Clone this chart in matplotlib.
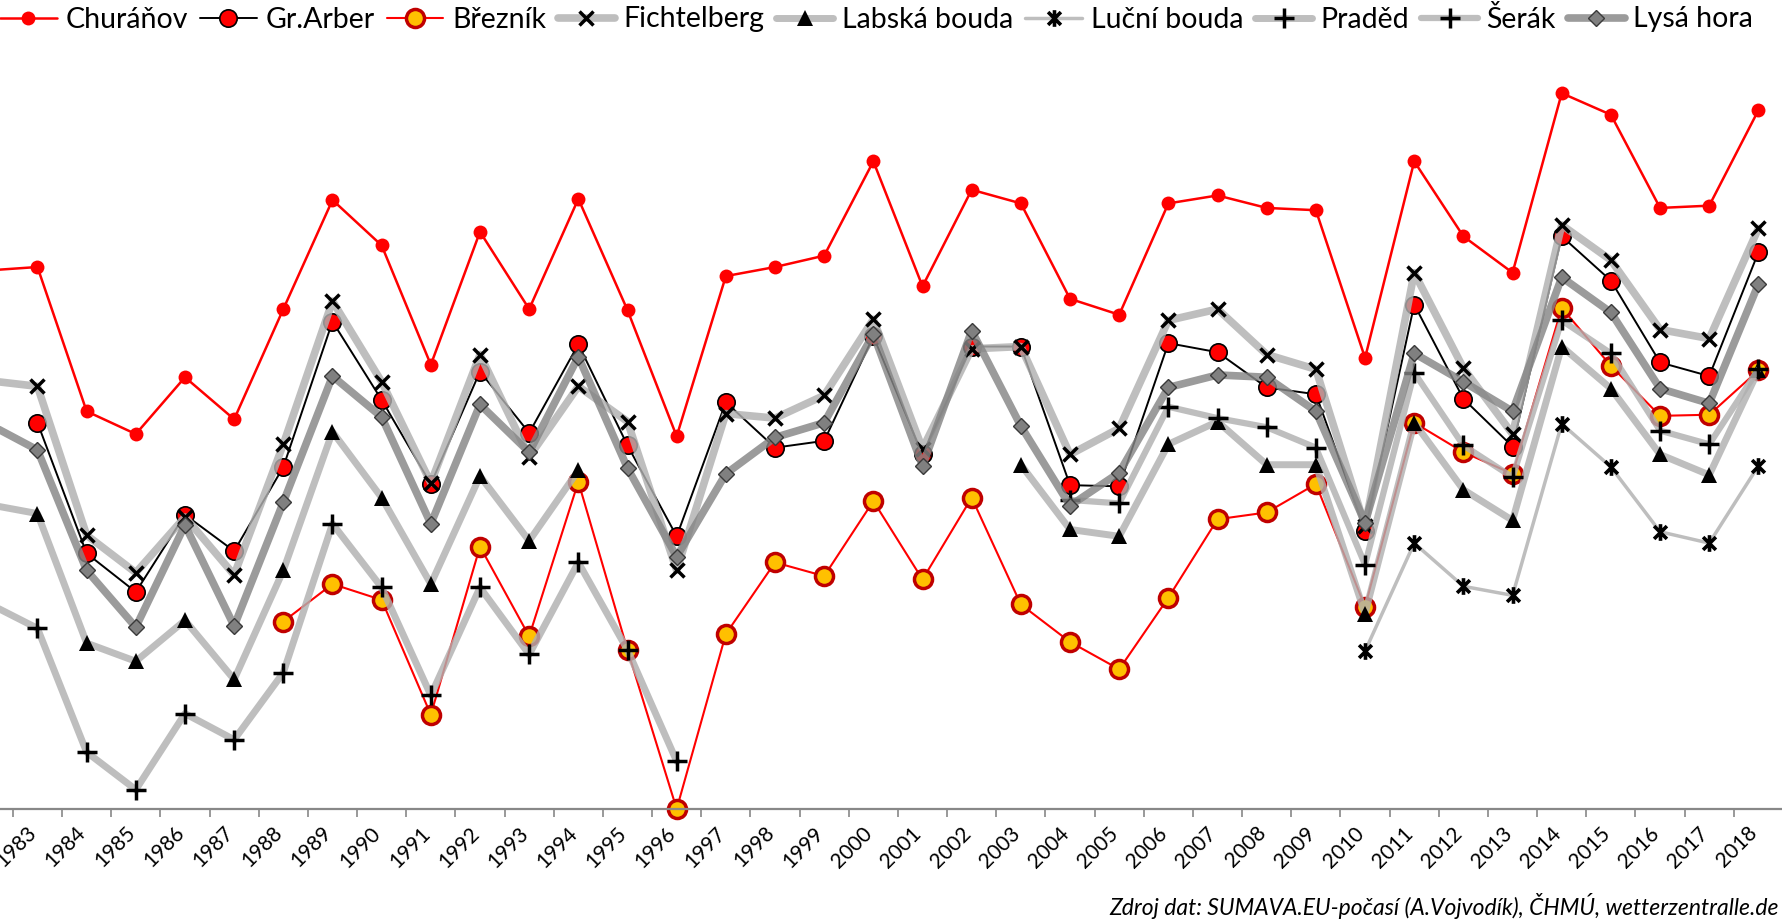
import numpy as np
import matplotlib
matplotlib.use("Agg")
import matplotlib.pyplot as plt
from matplotlib.path import Path
from matplotlib.transforms import blended_transform_factory, ScaledTranslation

plt.rcParams['font.family'] = ['Lato', 'DejaVu Sans']

nan = np.nan
years = list(range(1982, 2019))
year_labels = [str(y) for y in range(1983, 2019)]

churanov = [4.74, 4.77, 3.50, 3.30, 3.80, 3.43, 4.40, 5.36, 4.96, 3.91, 5.08, 4.40, 5.37, 4.39, 3.28,
            4.69, 4.77, 4.87, 5.70, 4.60, 5.45, 5.33, 4.49, 4.35, 5.33, 5.40, 5.29, 5.27, 3.97,
            5.70, 5.04, 4.72, 6.30, 6.11, 5.29, 5.31, 6.15]
arber = [nan, 3.40, 2.25, 1.91, 2.59, 2.27, 3.01, 4.29, 3.60, 2.86, 3.85, 3.31, 4.09, 3.20, 2.40,
         3.58, 3.18, 3.24, 4.16, 3.12, 4.07, 4.07, 2.85, 2.84, 4.10, 4.02, 3.71, 3.65, 2.45,
         4.44, 3.61, 3.19, 5.04, 4.65, 3.93, 3.81, 4.90]
breznik = [nan, nan, nan, nan, nan, nan, 1.65, 1.98, 1.84, 0.83, 2.31, 1.52, 2.88, 1.40, 0.00,
           1.54, 2.17, 2.05, 2.71, 2.02, 2.74, 1.80, 1.47, 1.23, 1.86, 2.55, 2.61, 2.86, 1.78,
           3.40, 3.14, 2.95, 4.41, 3.90, 3.46, 3.47, 3.86]
fichtelberg = [3.77, 3.72, 2.41, 2.08, 2.57, 2.06, 3.21, 4.47, 3.76, 2.87, 4.00, 3.10, 3.72, 3.41, 2.10,
               3.48, 3.44, 3.64, 4.31, 3.17, 4.05, 4.07, 3.12, 3.35, 4.30, 4.40, 4.00, 3.87, 2.49,
               4.72, 3.88, 3.30, 5.14, 4.83, 4.22, 4.14, 5.11]
labska = [2.68, 2.60, 1.46, 1.30, 1.66, 1.14, 2.10, 3.32, 2.74, 1.98, 2.93, 2.36, 2.98, nan, nan,
          nan, nan, nan, nan, nan, nan, 3.03, 2.46, 2.40, 3.21, 3.41, 3.03, 3.03, 1.72,
          3.40, 2.81, 2.54, 4.07, 3.70, 3.12, 2.94, 3.86]
lucni = [nan] * 28 + [1.39, 2.34, 1.96, 1.88, 3.39, 3.01, 2.44, 2.34, 3.02]
praded = [1.81, 1.59, 0.50, 0.17, 0.84, 0.61, 1.20, 2.51, 1.95, 1.00, 1.95, 1.36, 2.17, 1.40, 0.42] + [nan] * 22
serak = [nan] * 22 + [2.72, 2.69, 3.54, 3.44, 3.36, 3.18, 2.15, 3.84, 3.20, 2.92, 4.30, 4.01, 3.33, 3.21, 3.87]
lysa = [3.39, 3.16, 2.10, 1.60, 2.50, 1.61, 2.70, 3.81, 3.45, 2.51, 3.56, 3.14, 3.98, 3.00, 2.22,
        2.95, 3.27, 3.40, 4.18, 3.02, 4.21, 3.37, 2.67, 2.96, 3.71, 3.82, 3.80, 3.50, 2.52,
        4.01, 3.76, 3.50, 4.68, 4.37, 3.70, 3.57, 4.62]

names = ["Churáňov", "Gr.Arber", "Březník", "Fichtelberg", "Labská bouda",
         "Luční bouda", "Praděd", "Šerák", "Lysá hora"]
source = "Zdroj dat: SUMAVA.EU-počasí (A.Vojvodík), ČHMÚ, wetterzentralle.de"

star = Path([(-1, -1), (1, 1), (-1, 1), (1, -1), (0, -1.3), (0, 1.3)],
            [Path.MOVETO, Path.LINETO, Path.MOVETO, Path.LINETO, Path.MOVETO, Path.LINETO])

lg = (0.69, 0.69, 0.69, 0.82)
dg = (0.52, 0.52, 0.52, 0.82)
styles = [
    dict(color='#FF0000', lw=1.8, marker='o', ms=10, mfc='#FF0000', mec='#FF0000', mew=0),
    dict(color='black', lw=1.4, marker='o', ms=12.5, mfc='#FF0000', mec='black', mew=1.2),
    dict(color='#FF0000', lw=1.5, marker='o', ms=13, mfc='#FFC000', mec='#C00000', mew=2.5),
    dict(color=lg, lw=5.5, marker='x', ms=10, mfc='black', mec='black', mew=2.5),
    dict(color=lg, lw=5.0, marker='^', ms=11, mfc='black', mec='black', mew=0),
    dict(color=lg, lw=2.5, marker=star, ms=12, mfc='none', mec='black', mew=2.6),
    dict(color=lg, lw=5.0, marker='+', ms=14, mfc='black', mec='black', mew=2.5),
    dict(color=lg, lw=4.5, marker='+', ms=14, mfc='black', mec='black', mew=2.5),
    dict(color=dg, lw=5.5, marker='D', ms=8.5, mfc='#808080', mec='#3A3A3A', mew=1.0),
]
series = [churanov, arber, breznik, fichtelberg, labska, lucni, praded, serak, lysa]

W, H = 1783, 923
fig = plt.figure(figsize=(W / 100, H / 100), dpi=100)
ax = fig.add_axes([0, 1 - 809 / 923, 1, 809 / 923])
ax.set_xlim(1982.238, 2018.462)
ax.set_ylim(0, 7.12)

handles = []
for name, vals, st in zip(names, series, styles):
    ln, = ax.plot(years, vals, label=name, solid_joinstyle='round', solid_capstyle='round',
                  clip_on=False, **st)
    handles.append(ln)

for s in ['top', 'left', 'right']:
    ax.spines[s].set_visible(False)
ax.spines['bottom'].set_color('#888888')
ax.spines['bottom'].set_linewidth(1.6)
ax.set_yticks([])
ax.set_xticks(np.arange(1982.5, 2018.6, 1.0))
ax.set_xticklabels([])
ax.tick_params(axis='x', which='major', length=6, width=1.2, color='#888888', direction='out')

trans = blended_transform_factory(ax.transData, ax.transAxes) + \
    ScaledTranslation(-4 / 100, -21 / 100, fig.dpi_scale_trans)
for lab in year_labels:
    ax.text(int(lab), 0, lab, transform=trans, rotation=45, ha='right', va='center',
            rotation_mode='anchor', fontsize=15, clip_on=False)

fig.legend(handles=handles, loc='center left', bbox_to_anchor=(0.0, 1 - 19 / 923),
           ncol=9, frameon=False, fontsize=20.5, handlelength=2.0, handletextpad=0.3,
           columnspacing=0.42, borderpad=0, borderaxespad=0)

fig.text(1109 / W, 1 - 906 / H, source, ha='left', va='center', style='italic', fontsize=16.5)

fig.savefig("out.png", dpi=100)
